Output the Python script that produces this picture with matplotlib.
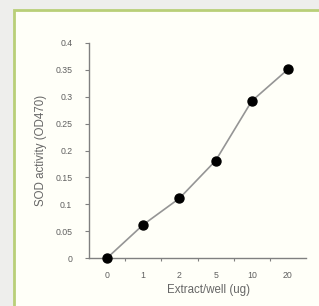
import matplotlib
matplotlib.use('Agg')
import matplotlib.pyplot as plt
from matplotlib.patches import Rectangle

# data
categories = ['0', '1', '2', '5', '10', '20']
sod_activity = [0.0, 0.062, 0.111, 0.181, 0.292, 0.351]
y_ticks = [0, 0.05, 0.1, 0.15, 0.2, 0.25, 0.3, 0.35, 0.4]
y_tick_labels = ['0', '0.05', '0.1', '0.15', '0.2', '0.25', '0.3', '0.35', '0.4']

plt.rcParams['font.family'] = ['Liberation Sans', 'DejaVu Sans']

fig = plt.figure(figsize=(3.19, 3.06), dpi=100)
fig.patch.set_facecolor('#eeeeec')

# framed panel behind the chart
panel = Rectangle((14 / 319, -0.05), 1.0, 1 - 10 / 306 + 0.05, transform=fig.transFigure,
                  facecolor='#fffff8', edgecolor='#b9cf78', linewidth=2.0, zorder=-10)
fig.patches.append(panel)

ax = fig.add_axes([89 / 319, 1 - 258 / 306, (306 - 89) / 319, (258 - 43) / 306])
ax.set_facecolor('none')
ax.set_zorder(5)

x = list(range(len(categories)))
ax.plot(x, sod_activity, color='#959595', linewidth=1.2, zorder=2)
ax.scatter(x, sod_activity, s=42, color='black', zorder=3, clip_on=False)

ax.set_xlim(-0.5, len(categories) - 0.5)
ax.set_ylim(0, 0.4)
ax.set_yticks(y_ticks)
ax.set_yticklabels(y_tick_labels)
ax.set_xticks(x)
ax.set_xticklabels(categories)
ax.set_xticks([i + 0.5 for i in x[:-1]], minor=True)

for s in ['top', 'right']:
    ax.spines[s].set_visible(False)
for s in ['left', 'bottom']:
    ax.spines[s].set_color('#808080')
    ax.spines[s].set_linewidth(1.0)

ax.tick_params(axis='y', direction='out', length=3, width=0.8, color='#808080',
               labelsize=6.3, labelcolor='#606060', pad=9)
ax.tick_params(axis='x', which='major', length=0, labelsize=6.3, labelcolor='#606060', pad=9)
ax.tick_params(axis='x', which='minor', direction='out', length=2, width=0.8, color='#808080')

ax.set_ylabel('SOD activity (OD470)', fontsize=8.3, color='#666666', va='center')
ax.yaxis.set_label_coords(-0.221, 0.5)
ax.set_xlabel('Extract/well (ug)', fontsize=8.3, color='#666666', va='center')
ax.xaxis.set_label_coords(0.55, -0.149)

fig.savefig('out.png', dpi=100, facecolor=fig.get_facecolor())
